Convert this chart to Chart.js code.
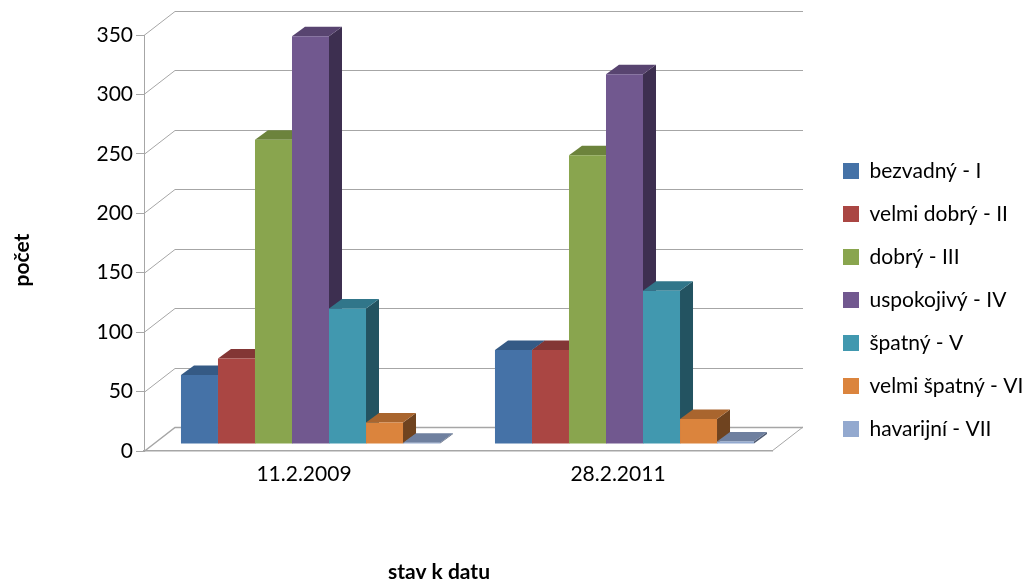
<!DOCTYPE html>
<html>
<head>
<meta charset="utf-8">
<title>stav k datu</title>
<style>
  html, body { margin: 0; padding: 0; background: #ffffff; }
  canvas { display: block; }
</style>
<script src="https://cdn.jsdelivr.net/npm/chart.js@4/dist/chart.umd.min.js"></script>
</head>
<body>
<canvas id="stavChart" width="1026" height="582"></canvas>
<script>
// data
const categories = ['11.2.2009', '28.2.2011'];
const seriesNames = ['bezvadný - I', 'velmi dobrý - II', 'dobrý - III', 'uspokojivý - IV', 'špatný - V', 'velmi špatný - VI', 'havarijní - VII'];
const bezvadny = [58, 79];
const velmiDobry = [72, 79];
const dobry = [256, 243];
const uspokojivy = [343, 311];
const spatny = [114, 129];
const velmiSpatny = [18, 21];
const havarijni = [1, 2];
const yTitle = 'počet';
const xTitle = 'stav k datu';

// front, top and side colours of each series
const frontColors = ['#4572A7', '#AA4643', '#89A54E', '#71588F', '#4198AF', '#DB843D', '#93A9CF'];
const topColors = ['#355A85', '#833635', '#6C833C', '#584470', '#31768A', '#A9652E', '#6F809F'];
const sideColors = ['#27405E', '#5E2726', '#4C5C2A', '#3D2F50', '#235361', '#6F431F', '#4F5B72'];

const FONT = 'Lato, Carlito, sans-serif';
const GRID = '#a6a6a6';
// pseudo 3D offsets
const wallDx = 31, wallDy = 24;
const barShiftX = 9.5, barShiftY = 7;
const depthX = 13, depthY = 9.5;

function poly(ctx, pts, color) {
    ctx.fillStyle = color;
    ctx.beginPath();
    ctx.moveTo(pts[0][0], pts[0][1]);
    for (let i = 1; i < pts.length; i++) ctx.lineTo(pts[i][0], pts[i][1]);
    ctx.closePath();
    ctx.fill();
}

// back wall, floor and the depth faces of the bars
const fake3d = {
    id: 'fake3d',
    beforeLayout(chart) {
        // keep room right of the floor for the legend
        const l = chart.legend;
        if (!l.fitWrapped) {
            const fit = l.fit;
            l.fit = function () { fit.call(this); this.width = 254; };
            l.fitWrapped = true;
        }
    },
    afterLayout(chart) {
        // legend sits further right than the floor edge
        const l = chart.legend;
        l.left = 843 - l.options.labels.padding;
        l.right = 1026;
        l.top = 75;
        l.bottom = 525;
    },
    beforeDatasetsDraw(chart) {
        const ctx = chart.ctx;
        const y = chart.scales.y;
        const area = chart.chartArea;

        ctx.save();
        ctx.strokeStyle = GRID;
        y.ticks.forEach(t => {
            const py = Math.round(y.getPixelForValue(t.value)) + 0.5;
            // floor line is a bit heavier than the wall lines
            ctx.lineWidth = t.value === 0 ? 1.5 : 1;
            ctx.beginPath();
            ctx.moveTo(area.left, py);
            ctx.lineTo(area.left + wallDx, py - wallDy);
            ctx.lineTo(area.right + wallDx, py - wallDy);
            ctx.stroke();
        });
        // right edge of the floor
        const py0 = y.getPixelForValue(0);
        ctx.lineWidth = 1;
        ctx.beginPath();
        ctx.moveTo(area.right, py0);
        ctx.lineTo(area.right + wallDx, py0 - wallDy);
        ctx.stroke();
        ctx.restore();

        // bars stand a bit behind the front axis
        ctx.save();
        ctx.translate(barShiftX, -barShiftY);
        categories.forEach((c, i) => {
            chart.data.datasets.forEach((ds, d) => {
                const bar = chart.getDatasetMeta(d).data[i];
                const l = bar.x - bar.width / 2, r = bar.x + bar.width / 2;
                const t = bar.y, b = bar.base;
                poly(ctx, [[r, t], [r + depthX, t - depthY], [r + depthX, b - depthY], [r, b]], sideColors[d]);
                poly(ctx, [[l, t], [l + depthX, t - depthY], [r + depthX, t - depthY], [r, t]], topColors[d]);
            });
        });
    },
    afterDatasetsDraw(chart) {
        chart.ctx.restore();
    },
    afterDraw(chart) {
        const ctx = chart.ctx;
        ctx.save();
        ctx.fillStyle = '#000000';
        ctx.font = 'bold 21px ' + FONT;
        ctx.textAlign = 'center';
        ctx.textBaseline = 'middle';
        ctx.fillText(xTitle, 439, 572);
        ctx.translate(22, 260);
        ctx.rotate(-Math.PI / 2);
        ctx.fillText(yTitle, 0, 0);
        ctx.restore();
    }
};

const seriesValues = [bezvadny, velmiDobry, dobry, uspokojivy, spatny, velmiSpatny, havarijni];

new Chart(document.getElementById('stavChart').getContext('2d'), {
    type: 'bar',
    data: {
        labels: categories,
        datasets: seriesNames.map((name, i) => ({
            label: name,
            data: seriesValues[i],
            backgroundColor: frontColors[i],
            borderWidth: 0,
            barPercentage: 1,
            categoryPercentage: 0.825,
            clip: false
        }))
    },
    options: {
        responsive: false,
        animation: false,
        layout: { padding: { top: 35 } },
        plugins: {
            tooltip: { enabled: false },
            legend: {
                position: 'right',
                align: 'center',
                labels: {
                    boxWidth: 16,
                    boxHeight: 16,
                    padding: 22,
                    color: '#000000',
                    font: { family: FONT, size: 21 }
                }
            }
        },
        scales: {
            x: {
                afterFit(scale) { scale.height = 131; },
                grid: { display: false },
                border: { color: GRID, width: 1.5 },
                ticks: { color: '#000000', labelOffset: 3, padding: 3, font: { family: FONT, size: 21 }, maxRotation: 0 }
            },
            y: {
                min: 0,
                max: 350,
                afterFit(scale) { scale.width = 144; },
                grid: { drawOnChartArea: false, drawTicks: true, tickLength: 8, color: GRID },
                border: { color: GRID, width: 1 },
                ticks: { stepSize: 50, color: '#000000', padding: 3, font: { family: FONT, size: 21 } }
            }
        }
    },
    plugins: [fake3d]
});
</script>
</body>
</html>
